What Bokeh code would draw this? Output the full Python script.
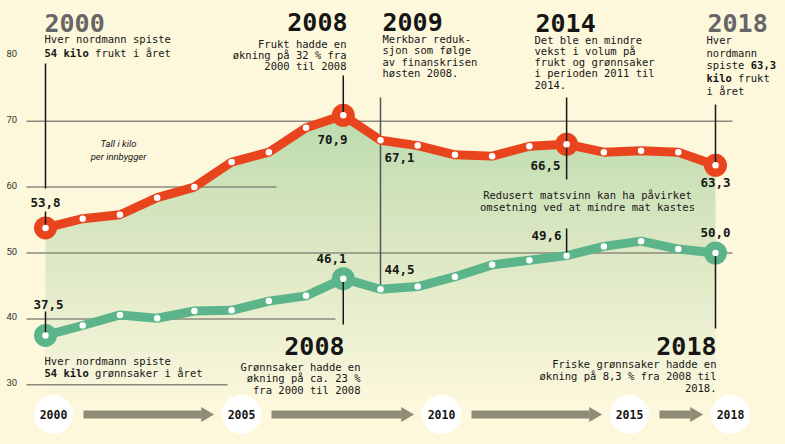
import numpy as np
from bokeh.plotting import figure
from bokeh.models import Range1d
from bokeh.core.properties import value
from bokeh.embed import file_html
from bokeh.resources import INLINE

# ---------------- data ----------------
years = list(range(2000, 2019))
fruit = [53.8, 55.2, 55.8, 58.4, 60.0, 63.8, 65.3, 69.0, 70.9, 67.1,
         66.3, 64.9, 64.7, 66.2, 66.5, 65.3, 65.5, 65.3, 63.3]
veg = [37.5, 39.0, 40.6, 40.1, 41.2, 41.3, 42.7, 43.5, 46.1, 44.5,
       44.9, 46.4, 48.2, 48.9, 49.6, 51.0, 51.8, 50.6, 50.0]
y_ticks = [80, 70, 60, 50, 40, 30]
fruit_key_years = [2000, 2008, 2014, 2018]
veg_key_years = [2000, 2008, 2018]
timeline_labels = ["2000", "2005", "2010", "2015", "2018"]

# ---------------- style / layout ----------------
BG = "#fdf8dc"
RED = "#e8451e"
GREEN = "#5cb58a"
GRID = "#8c8a7c"
ARROW = "#8f8c78"
INK = "#161616"
GREY_HEAD = "#666666"
MONO = "DejaVu Sans Mono"
SANS = "Roboto"

W, H = 785, 444
SX = 670 / 18.0
X0 = 2000 - 45 / SX
SY = 6.59
Y1 = 70 + 120.7 / SY


def X(px):
    return X0 + px / SX


def Y(py):
    return Y1 - py / SY


p = figure(width=W, height=H, x_range=Range1d(X0, X0 + W / SX),
           y_range=Range1d(Y1 - H / SY, Y1), output_backend="svg",
           toolbar_location=None, min_border=0, x_axis_location=None,
           y_axis_location=None, background_fill_color=BG,
           border_fill_color=BG, outline_line_color=None)
p.grid.visible = False

fd = dict(zip(years, fruit))
vd = dict(zip(years, veg))

# ---------------- gradient fill under fruit line ----------------
vb, vt = Y(402), 72.0
N = 300
vv = np.linspace(vb, vt, N)
stops_v = [vb, 33, 40, 50, 60, vt]
stops_c = ["#fdf8dc", "#f4f4d8", "#eaefcf", "#dde8c4", "#cfe3bb", "#b9dbae"]
rgb = np.array([[int(c[i:i + 2], 16) for i in (1, 3, 5)] for c in stops_c])
img = np.empty((N, 1), dtype=np.uint32)
view = img.view(dtype=np.uint8).reshape((N, 1, 4))
for k in range(3):
    view[:, 0, k] = np.interp(vv, stops_v, rgb[:, k]).astype(np.uint8)
view[:, 0, 3] = 255
p.image_rgba(image=[img], x=years[0], y=vb, dw=years[-1] - years[0], dh=vt - vb)
p.varea(x=years, y1=fruit, y2=[vt] * len(years), fill_color=BG)

# ---------------- partial gridlines ----------------
grid_vals = y_ticks[1:]
grid_ends = [732, 276, 732, 335, 227]
p.segment(x0=[X(26)] * len(grid_vals), y0=grid_vals,
          x1=[X(e) for e in grid_ends], y1=grid_vals,
          line_color=GRID, line_width=1.5)
p.text(x=[X(6)] * len(y_ticks), y=y_ticks, text=[str(t) for t in y_ticks],
       text_font=value(SANS), text_font_size="9.5px", text_color="#333333",
       text_baseline="middle", text_align="left", y_offset=-2)

# 2009 leader (behind the lines)
p.segment(x0=[2009], y0=[Y(97)], x1=[2009], y1=[vd[2009]],
          line_color="#555555", line_width=1.5)

# ---------------- series ----------------
p.line(years, fruit, line_color=RED, line_width=9, line_join="round")
p.line(years, veg, line_color=GREEN, line_width=9, line_join="round")
p.scatter(fruit_key_years, [fd[y] for y in fruit_key_years], size=23,
          fill_color=RED, line_color=None)
p.scatter(veg_key_years, [vd[y] for y in veg_key_years], size=23,
          fill_color=GREEN, line_color=None)

# leaders to the key points
lx0, ly0, lx1, ly1 = [], [], [], []
def lead(xv, a, b):
    lx0.append(xv); ly0.append(a); lx1.append(xv); ly1.append(b)

lead(2000, Y(63), Y(188))
lead(2000, Y(211), fd[2000])
lead(2008, Y(75), fd[2008])
lead(2014, Y(97), Y(179))
lead(2018, Y(104), fd[2018])
lead(2014, Y(228), vd[2014])
lead(2018, vd[2018], Y(328))
lead(2008, vd[2008], Y(324))
lead(2000, Y(311), vd[2000])
p.segment(x0=lx0, y0=ly0, x1=lx1, y1=ly1, line_color=INK, line_width=1.5)

p.scatter(years, fruit, size=6.5, fill_color="white", line_color=None)
p.scatter(years, veg, size=6.5, fill_color="white", line_color=None)

# ---------------- text helpers ----------------
CW = 0.602 * 10.5


def txt(px, py, s, size="10.5px", bold=False, align="left", color=INK,
        font=MONO, italic=False, xoff=0):
    style = "normal"
    if bold and italic:
        style = "bold italic"
    elif bold:
        style = "bold"
    elif italic:
        style = "italic"
    p.text(x=[X(px)], y=[Y(py)], text=[s], text_font=value(font),
           text_font_size=size, text_font_style=style, text_color=color,
           text_align=align, text_baseline="middle", x_offset=xoff)


def fmt(v):
    return f"{v:.1f}".replace(".", ",")


BIG = "25px"
VAL = "12.5px"

# top-left 2000
txt(44, 22, "2000", BIG, True, color=GREY_HEAD)
txt(44, 38, "Hver nordmann spiste")
txt(44, 52, "54 kilo", bold=True)
txt(44, 52, "frukt i året", xoff=8 * CW)

txt(118, 143, "Tall i kilo", "9.5px", font=SANS, italic=True, align="center")
txt(118, 156, "per innbygger", "9.5px", font=SANS, italic=True, align="center")

# 2008 fruit
txt(347, 21, "2008", BIG, True, align="right")
for i, s in enumerate(["Frukt hadde en", "økning på 32 % fra", "2000 til 2008"]):
    txt(346, 43.5 + 11 * i, s, align="right")

# 2009
txt(382, 21, "2009", BIG, True)
for i, s in enumerate(["Merkbar reduk-", "sjon som følge", "av finanskrisen", "høsten 2008."]):
    txt(382, 38.5 + 11.4 * i, s)

# 2014
txt(535, 22, "2014", BIG, True)
for i, s in enumerate(["Det ble en mindre", "vekst i volum på", "frukt og  grønnsaker",
                       "i perioden 2011 til", "2014."]):
    txt(534, 39.3 + 11.2 * i, s)

# 2018 top
txt(707, 22, "2018", BIG, True, color=GREY_HEAD)
txt(706, 39, "Hver")
txt(706, 52, "nordmann")
txt(706, 64.5, "spiste")
txt(706, 64.5, "63,3", bold=True, xoff=7 * CW)
txt(706, 77, "kilo", bold=True)
txt(706, 77, "frukt", xoff=5 * CW)
txt(706, 90, "i året")

# middle note
txt(587, 194, "Redusert matsvinn kan ha påvirket", align="center")
txt(587, 206, "omsetning ved at mindre mat kastes", align="center")

# bottom-left 2000
txt(44, 360, "Hver nordmann spiste")
txt(44, 372, "54 kilo", bold=True)
txt(44, 372, "grønnsaker i året", xoff=8 * CW)

# 2008 veg
txt(344, 345, "2008", BIG, True, align="right")
for i, s in enumerate(["Grønnsaker hadde en", "økning på ca. 23 %", "fra 2000 til 2008"]):
    txt(360, 366 + 11.5 * i, s, align="right")

# 2018 veg
txt(716, 345, "2018", BIG, True, align="right")
for i, s in enumerate(["Friske grønnsaker hadde en", "økning på 8,3 % fra 2008 til", "2018."]):
    txt(716, 363 + 12 * i, s, align="right")

# value labels
txt(45, 202, fmt(fd[2000]), VAL, True, align="center")
txt(332, 139, fmt(fd[2008]), VAL, True, align="center")
txt(384, 157, fmt(fd[2009]), VAL, True)
txt(560, 165, fmt(fd[2014]), VAL, True, align="right")
txt(715, 182, fmt(fd[2018]), VAL, True, align="center")
txt(48, 304, fmt(vd[2000]), VAL, True, align="center")
txt(331, 258, fmt(vd[2008]), VAL, True, align="center")
txt(384, 269, fmt(vd[2009]), VAL, True)
txt(561, 235, fmt(vd[2014]), VAL, True, align="right")
txt(715, 232, fmt(vd[2018]), VAL, True, align="center")

# ---------------- timeline ----------------
tl_px = [53, 241, 441, 629, 730]
tl_py = 414
p.scatter([X(c) for c in tl_px], [Y(tl_py)] * len(tl_px), size=39,
          fill_color="white", line_color=None)
sx0, sx1, hx = [], [], []
for a, b in zip(tl_px[:-1], tl_px[1:]):
    tip = b - 31
    sx0.append(X(a + 30))
    sx1.append(X(tip - 9))
    hx.append(X(tip - 5))
p.segment(x0=sx0, y0=[Y(tl_py)] * len(sx0), x1=sx1, y1=[Y(tl_py)] * len(sx1),
          line_color=ARROW, line_width=8)
p.scatter(hx, [Y(tl_py)] * len(hx), marker="triangle", size=15,
          angle=-np.pi / 2, fill_color=ARROW, line_color=None)
p.text(x=[X(c) for c in tl_px], y=[Y(tl_py)] * len(tl_px), text=timeline_labels,
       text_font=value(MONO), text_font_size="11.5px", text_font_style="bold",
       text_color=INK, text_align="center", text_baseline="middle")

html = file_html(p, INLINE)
html = html.replace("<head>", "<head><style>html,body{background:" + BG + ";margin:0;}</style>", 1)
open("out.html", "w").write(html)
